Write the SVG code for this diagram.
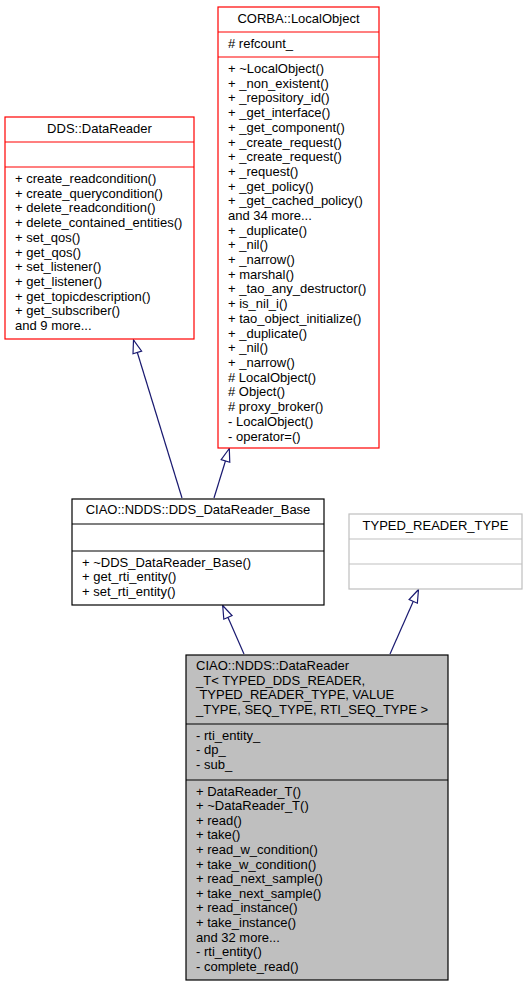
<svg xmlns="http://www.w3.org/2000/svg" width="528" height="987" viewBox="0 0 528 987">
<style>
text{font-family:"Liberation Sans",Arial,Helvetica,sans-serif;font-size:13px;fill:#000}
.t{text-anchor:middle}
.red{fill:#fff;stroke:#ff0000;stroke-width:1.2}
.blk{fill:#fff;stroke:#000;stroke-width:1.2}
.gry{fill:#fff;stroke:#bfbfbf;stroke-width:1.2}
.cur{fill:#bfbfbf;stroke:#000;stroke-width:1.2}
.dr{stroke:#ff0000;stroke-width:1.2}
.db{stroke:#000;stroke-width:1.2}
.dg{stroke:#bfbfbf;stroke-width:1.2}
.edge{stroke:#191970;stroke-width:1.2;fill:none;marker-end:url(#tri)}
</style>
<defs>
<marker id="tri" markerUnits="userSpaceOnUse" markerWidth="15" markerHeight="11" refX="13" refY="5" orient="auto" overflow="visible">
<path d="M13,5 L0,0.5 L0,9.5 Z" fill="#fff" stroke="#191970" stroke-width="1.2"/>
</marker>
</defs>
<rect width="528" height="987" fill="#fff"/>

<g id="edges">
<line class="edge" x1="182" y1="498" x2="133.5" y2="340"/>
<line class="edge" x1="214" y1="498" x2="229.3" y2="448.5"/>
<line class="edge" x1="244" y1="654" x2="222.7" y2="605.5"/>
<line class="edge" x1="390" y1="654" x2="418.5" y2="589.5"/>
</g>

<g id="dds_datareader">
<rect class="red" x="5" y="117" width="189" height="222"/>
<line class="dr" x1="5" y1="142" x2="194" y2="142"/>
<line class="dr" x1="5" y1="167" x2="194" y2="167"/>
<text class="t" x="99.5" y="133">DDS::DataReader</text>
<text x="15" y="183">+ create_readcondition()<tspan x="15" dy="14.7">+ create_querycondition()</tspan><tspan x="15" dy="14.7">+ delete_readcondition()</tspan><tspan x="15" dy="14.7">+ delete_contained_entities()</tspan><tspan x="15" dy="14.7">+ set_qos()</tspan><tspan x="15" dy="14.7">+ get_qos()</tspan><tspan x="15" dy="14.7">+ set_listener()</tspan><tspan x="15" dy="14.7">+ get_listener()</tspan><tspan x="15" dy="14.7">+ get_topicdescription()</tspan><tspan x="15" dy="14.7">+ get_subscriber()</tspan><tspan x="15" dy="14.7">and 9 more...</tspan></text>
</g>

<g id="corba_localobject">
<rect class="red" x="218" y="7" width="161" height="441"/>
<line class="dr" x1="218" y1="32" x2="379" y2="32"/>
<line class="dr" x1="218" y1="57" x2="379" y2="57"/>
<text class="t" x="298.5" y="23">CORBA::LocalObject</text>
<text x="228" y="48"># refcount_</text>
<text x="228" y="73">+ ~LocalObject()<tspan x="228" dy="14.7">+ _non_existent()</tspan><tspan x="228" dy="14.7">+ _repository_id()</tspan><tspan x="228" dy="14.7">+ _get_interface()</tspan><tspan x="228" dy="14.7">+ _get_component()</tspan><tspan x="228" dy="14.7">+ _create_request()</tspan><tspan x="228" dy="14.7">+ _create_request()</tspan><tspan x="228" dy="14.7">+ _request()</tspan><tspan x="228" dy="14.7">+ _get_policy()</tspan><tspan x="228" dy="14.7">+ _get_cached_policy()</tspan><tspan x="228" dy="14.7">and 34 more...</tspan><tspan x="228" dy="14.7">+ _duplicate()</tspan><tspan x="228" dy="14.7">+ _nil()</tspan><tspan x="228" dy="14.7">+ _narrow()</tspan><tspan x="228" dy="14.7">+ marshal()</tspan><tspan x="228" dy="14.7">+ _tao_any_destructor()</tspan><tspan x="228" dy="14.7">+ is_nil_i()</tspan><tspan x="228" dy="14.7">+ tao_object_initialize()</tspan><tspan x="228" dy="14.7">+ _duplicate()</tspan><tspan x="228" dy="14.7">+ _nil()</tspan><tspan x="228" dy="14.7">+ _narrow()</tspan><tspan x="228" dy="14.7"># LocalObject()</tspan><tspan x="228" dy="14.7"># Object()</tspan><tspan x="228" dy="14.7"># proxy_broker()</tspan><tspan x="228" dy="14.7">- LocalObject()</tspan><tspan x="228" dy="14.7">- operator=()</tspan></text>
</g>

<g id="dds_datareader_base">
<rect class="blk" x="72" y="499" width="252" height="106"/>
<line class="db" x1="72" y1="524" x2="324" y2="524"/>
<line class="db" x1="72" y1="551" x2="324" y2="551"/>
<text class="t" x="198" y="514">CIAO::NDDS::DDS_DataReader_Base</text>
<text x="82" y="566.5">+ ~DDS_DataReader_Base()<tspan x="82" dy="14.5">+ get_rti_entity()</tspan><tspan x="82" dy="14.5">+ set_rti_entity()</tspan></text>
</g>

<g id="typed_reader_type">
<rect class="gry" x="349" y="514" width="173" height="75"/>
<line class="dg" x1="349" y1="539" x2="522" y2="539"/>
<line class="dg" x1="349" y1="564" x2="522" y2="564"/>
<text class="t" x="435.5" y="530">TYPED_READER_TYPE</text>
</g>

<g id="datareader_t">
<rect class="cur" x="186" y="655" width="262" height="325"/>
<line class="db" x1="186" y1="724" x2="448" y2="724"/>
<line class="db" x1="186" y1="780" x2="448" y2="780"/>
<text x="196" y="670">CIAO::NDDS::DataReader<tspan x="196" dy="14.6">_T&lt; TYPED_DDS_READER,</tspan><tspan x="196" dy="14.6"> TYPED_READER_TYPE, VALUE</tspan><tspan x="196" dy="14.6">_TYPE, SEQ_TYPE, RTI_SEQ_TYPE &gt;</tspan></text>
<text x="196" y="739.5">- rti_entity_<tspan x="196" dy="14.6">- dp_</tspan><tspan x="196" dy="14.6">- sub_</tspan></text>
<text x="196" y="795.5">+ DataReader_T()<tspan x="196" dy="14.6">+ ~DataReader_T()</tspan><tspan x="196" dy="14.6">+ read()</tspan><tspan x="196" dy="14.6">+ take()</tspan><tspan x="196" dy="14.6">+ read_w_condition()</tspan><tspan x="196" dy="14.6">+ take_w_condition()</tspan><tspan x="196" dy="14.6">+ read_next_sample()</tspan><tspan x="196" dy="14.6">+ take_next_sample()</tspan><tspan x="196" dy="14.6">+ read_instance()</tspan><tspan x="196" dy="14.6">+ take_instance()</tspan><tspan x="196" dy="14.6">and 32 more...</tspan><tspan x="196" dy="14.6">- rti_entity()</tspan><tspan x="196" dy="14.6">- complete_read()</tspan></text>
</g>
</svg>
